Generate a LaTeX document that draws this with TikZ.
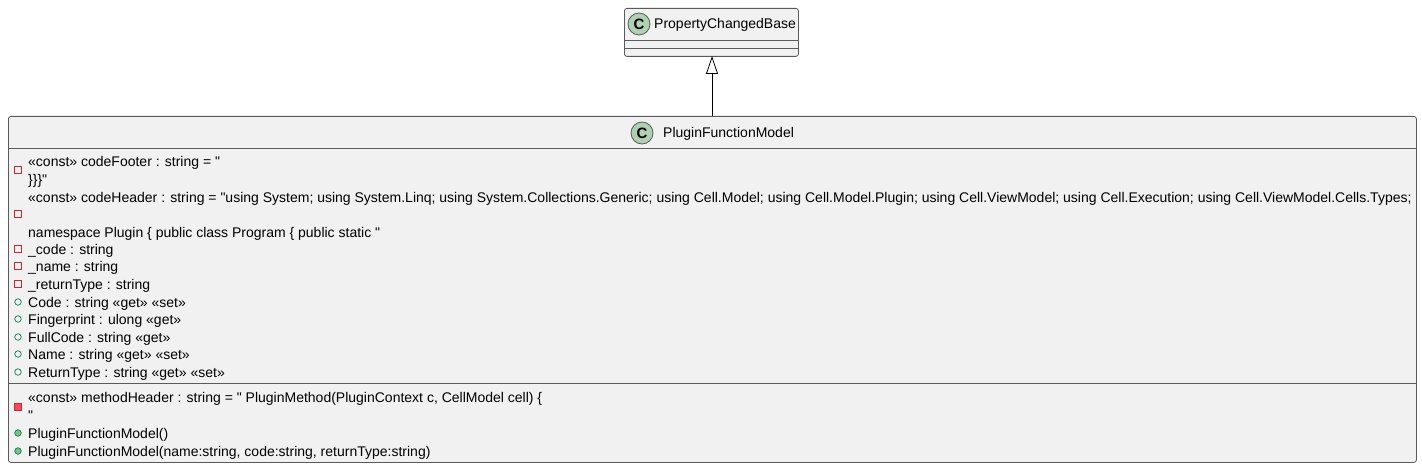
\documentclass[tikz,border=0pt]{standalone}
\usepackage{fontspec}
\setmainfont{Liberation Sans}
\usetikzlibrary{arrows.meta, positioning}
\usepackage{xcolor}
\definecolor{umlfill}{HTML}{F1F1F1}
\definecolor{umlborder}{HTML}{5A5A5A}
\definecolor{iconfill}{HTML}{ADD1B2}
\definecolor{privred}{HTML}{C82930}
\definecolor{privfill}{HTML}{F24D5C}
\definecolor{pubgreen}{HTML}{038048}
\definecolor{pubfill}{HTML}{84BE84}
\tikzset{%
	classbox/.style={
		draw=umlborder,
		fill=umlfill,
		rounded corners=2.5pt,
		line width=0.8pt,
		anchor=north west,
		inner sep=0pt
	},
	classicon/.style={
		circle,
		draw=umlborder,
		fill=iconfill,
		line width=0.8pt,
		minimum size=22pt,
		inner sep=0pt,
		font=\fontsize{15}{15}\selectfont\bfseries
	},
	member/.style={
		anchor=west,
		inner sep=0pt,
		text height=10pt,
		text depth=3pt,
		yshift=-1.5pt,
		font=\fontsize{14}{17}\selectfont
	},
	privfield/.style={
		rectangle,
		draw=privred,
		line width=0.7pt,
		minimum size=6.5pt,
		inner sep=0pt
	},
	privconst/.style={privfield, fill=privfill},
	pubprop/.style={
		circle,
		draw=pubgreen,
		line width=0.7pt,
		minimum size=6.5pt,
		inner sep=0pt
	},
	pubmethod/.style={pubprop, fill=pubfill},
}
\newcommand{\dq}{\textquotedbl}

\begin{document}
\begin{tikzpicture}[x=1pt, y=-1pt]
	\useasboundingbox[fill=white] (0,0) rectangle (1422,468);

	% Base class
	\node[classbox, minimum width=174pt, minimum height=48pt] (pcb) at (624,8) {};
	\draw[umlborder, line width=0.8pt] (624,40) -- (798,40);
	\draw[umlborder, line width=0.8pt] (624,48) -- (798,48);
	\node[classicon] (pcbicon) at (639,24) {C};
	\node[member] (pcbname) at (654,24) {PropertyChangedBase};

	% Derived class
	\node[classbox, minimum width=1408pt, minimum height=346pt] (pfm) at (8,116) {};
	\draw[umlborder, line width=0.8pt] (8,148) -- (1416,148);
	\draw[umlborder, line width=0.8pt] (8,383) -- (1416,383);
	\node[classicon] (pfmicon) at (642,133) {C};
	\node[member] (pfmname) at (663,133) {PluginFunctionModel};

	% Fields
	\node[privfield] (ifooter) at (18,170) {};
	\node[member] (footer1) at (28,162) {«const» codeFooter : string = \dq};
	\node[member] (footer2) at (28,180) {\}\}\}\dq};
	\node[privfield] (iheader) at (18,214) {};
	\node[member] (header1) at (28,197) {«const» codeHeader : string = \dq using System; using System.Linq; using System.Collections.Generic; using Cell.Model; using Cell.Model.Plugin; using Cell.ViewModel; using Cell.Execution; using Cell.ViewModel.Cells.Types;};
	\node[member] (header3) at (28,232) {namespace Plugin \{ public class Program \{ public static \dq};
	\foreach \name/\txt/\y in {code/\_code : string/249, name/\_name : string/266, rtype/\_returnType : string/284} {
		\node[privfield] (i\name) at (18,\y) {};
		\node[member] (f\name) at (28,\y) {\txt};
	}

	% Properties
	\foreach \name/\txt/\y in {code/Code : string «get» «set»/302,
		finger/Fingerprint : ulong «get»/319,
		full/FullCode : string «get»/337,
		name/Name : string «get» «set»/354,
		rtype/ReturnType : string «get» «set»/372} {
		\node[pubprop] (ip\name) at (18,\y) {};
		\node[member] (p\name) at (28,\y) {\txt};
	}

	% Methods
	\node[privconst] (imheader) at (18,407) {};
	\node[member] (mheader1) at (28,397) {«const» methodHeader : string = \dq{} PluginMethod(PluginContext c, CellModel cell) \{};
	\node[member] (mheader2) at (28,415) {\dq};
	\node[pubmethod] (ictor1) at (18,433) {};
	\node[member] (ctor1) at (28,433) {PluginFunctionModel()};
	\node[pubmethod] (ictor2) at (18,451) {};
	\node[member] (ctor2) at (28,451) {PluginFunctionModel(name:string, code:string, returnType:string)};

	% Inheritance
	\draw[line width=0.8pt, -{Triangle[open, length=18pt, width=12pt]}] (pfm.north -| 712,0) -- (712,56);
\end{tikzpicture}
\end{document}
